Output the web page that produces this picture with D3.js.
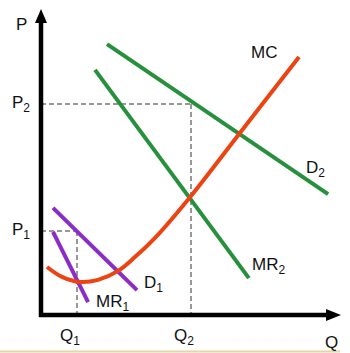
<!DOCTYPE html>
<html>
<head>
    <script src="https://d3js.org/d3.v7.min.js"></script>
    <style>
        body { margin: 0; background: #fff; }
        text { font-family: Arial, "Liberation Sans", sans-serif; fill: #111; }
        .curve { fill: none; stroke-width: 4; }
        .guide { stroke: #777; stroke-width: 1.5; stroke-dasharray: 5,3; }
    </style>
</head>
<body>
    <div id="chart"></div>
    <script>
        // Curve points in (Q, P) units, 0-100 on both axes
        const mcQ = [2, 7, 13, 19, 25.7, 31.3, 38, 50, 66.3, 86];
        const mcP = [16, 12.7, 11, 11.7, 14.7, 19.3, 25.7, 39.7, 60.7, 86];
        const d1 = [[4, 35.7], [32, 8.3]];
        const mr1 = [[4, 27.7], [15.7, 4.3]];
        const d2 = [[22, 90.3], [95.7, 40.3]];
        const mr2 = [[18, 81.7], [69.3, 12.3]];

        // equilibrium levels
        const qLevels = [12, 50];
        const pLevels = [28, 70.3];
        const levelNames = ["1", "2"];

        const width = 350, height = 353;

        const x = d3.scaleLinear().domain([0, 100]).range([41, 341]);
        const y = d3.scaleLinear().domain([0, 100]).range([315, 15]);

        const svg = d3.select("#chart")
            .append("svg")
            .attr("width", width)
            .attr("height", height);

        // thin tan line at the very bottom
        svg.append("line")
            .attr("x1", 0).attr("x2", 340)
            .attr("y1", 351.5).attr("y2", 351.5)
            .attr("stroke", "#e6d3a8")
            .attr("stroke-width", 2);

        // dashed guides
        qLevels.forEach((q, i) => {
            svg.append("line").attr("class", "guide")
                .attr("x1", x(0)).attr("x2", x(q))
                .attr("y1", y(pLevels[i])).attr("y2", y(pLevels[i]));
            svg.append("line").attr("class", "guide")
                .attr("x1", x(q)).attr("x2", x(q))
                .attr("y1", y(pLevels[i])).attr("y2", y(0));
        });

        const line = d3.line().x(d => x(d[0])).y(d => y(d[1]));

        // demand and MR lines
        [[d2, "#26903d"], [mr2, "#26903d"], [d1, "#8b2cc6"], [mr1, "#8b2cc6"]].forEach(([pts, c]) => {
            svg.append("path")
                .attr("class", "curve")
                .attr("d", line(pts))
                .attr("stroke", c);
        });

        // marginal cost
        const mc = mcQ.map((q, i) => [q, mcP[i]]);
        svg.append("path")
            .attr("class", "curve")
            .attr("d", line.curve(d3.curveCatmullRom)(mc))
            .attr("stroke", "#ec4312");

        // axes with arrowheads
        svg.append("line")
            .attr("x1", x(0)).attr("x2", x(0))
            .attr("y1", y(0) + 2).attr("y2", 20)
            .attr("stroke", "#000").attr("stroke-width", 4.5);
        svg.append("path")
            .attr("d", `M${x(0) - 6},23 L${x(0)},9 L${x(0) + 6},23 Z`)
            .attr("fill", "#000");
        svg.append("line")
            .attr("x1", x(0) - 2).attr("x2", 328)
            .attr("y1", y(0)).attr("y2", y(0))
            .attr("stroke", "#000").attr("stroke-width", 4.5);
        svg.append("path")
            .attr("d", `M326,${y(0) - 6} L341,${y(0)} L326,${y(0) + 6} Z`)
            .attr("fill", "#000");

        // labels
        function label(tx, ty, main, sub) {
            const t = svg.append("text")
                .attr("x", tx).attr("y", ty)
                .attr("font-size", 17);
            t.append("tspan").text(main);
            if (sub) {
                t.append("tspan")
                    .attr("font-size", 12)
                    .attr("dy", 4)
                    .text(sub);
            }
        }

        label(16, 30, "P");
        label(325, 348, "Q");
        pLevels.forEach((p, i) => label(12, y(p) + 4, "P", levelNames[i]));
        qLevels.forEach((q, i) => label(x(q) - 17, 341, "Q", levelNames[i]));
        label(251, 58, "MC");
        label(306, 173, "D", "2");
        label(252, 270, "MR", "2");
        label(144, 288, "D", "1");
        label(96, 307, "MR", "1");
    </script>
</body>
</html>
